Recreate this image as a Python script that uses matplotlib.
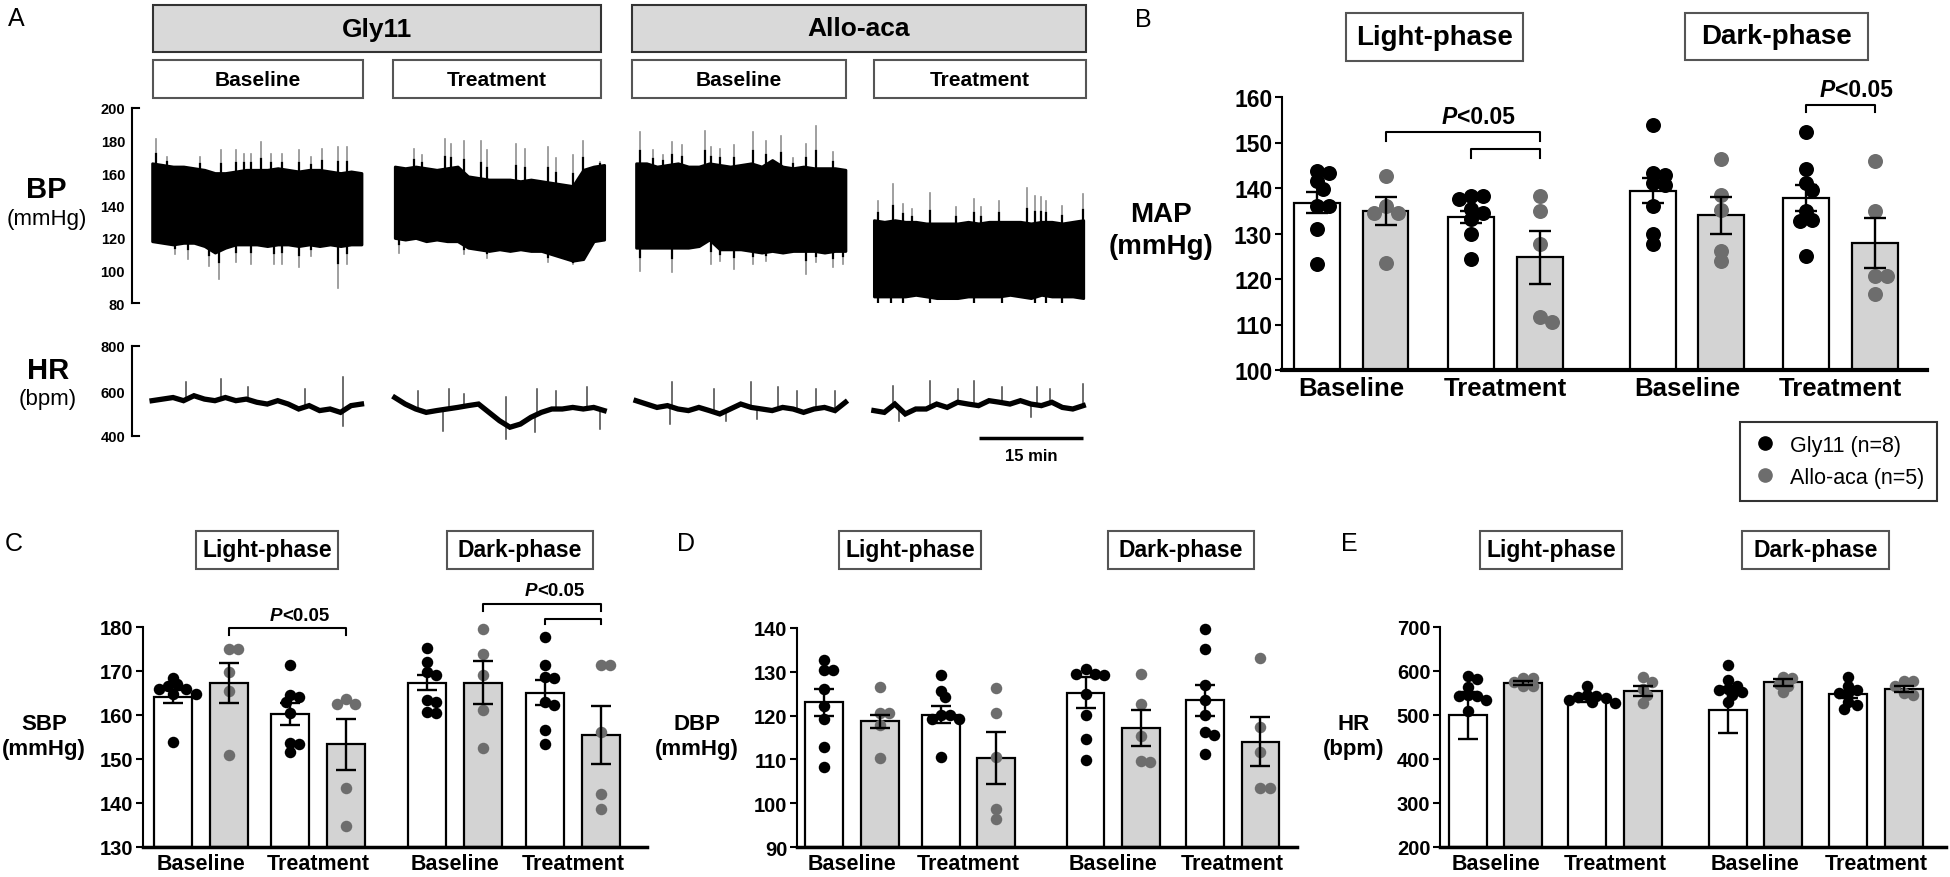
import numpy as np
import matplotlib
matplotlib.use('Agg')
import matplotlib.pyplot as plt
from matplotlib.patches import Rectangle
from matplotlib.lines import Line2D
from matplotlib.transforms import offset_copy

plt.rcParams['font.family'] = ['Liberation Sans', 'DejaVu Sans']

W, H = 1950, 878
fig = plt.figure(figsize=(W / 100, H / 100), dpi=100)

GLY = 'black'
ALLO = '#6d6d6d'
BARGRAY = '#d3d3d3'

## ---------------- panel A data ----------------
seg_start = [2.9, 37.9, 72.7, 107.0]     # minutes
seg_len = 30.2
frac21 = np.linspace(0, 1, 21)

bp_upper = [
    [166, 165, 164, 164, 163, 162, 160, 160, 161, 162, 162, 162, 163, 162, 161, 162, 162, 161, 160, 161, 160],
    [164, 163, 164, 163, 162, 163, 164, 158, 157, 156, 156, 156, 155, 156, 155, 154, 153, 152, 162, 164, 165],
    [166, 166, 164, 165, 166, 164, 164, 166, 165, 164, 165, 166, 164, 168, 164, 163, 164, 163, 163, 163, 162],
    [131, 130, 131, 130, 130, 129, 129, 129, 129, 130, 129, 130, 130, 130, 130, 129, 130, 130, 129, 130, 131],
]
bp_lower = [
    [118, 117, 116, 117, 117, 115, 111, 114, 116, 116, 116, 115, 116, 116, 115, 116, 115, 116, 115, 116, 116],
    [120, 119, 120, 118, 119, 118, 118, 114, 113, 112, 113, 112, 113, 112, 112, 110, 108, 106, 107, 118, 119],
    [114, 114, 114, 114, 114, 114, 115, 119, 113, 113, 113, 112, 111, 112, 111, 112, 112, 112, 111, 112, 112],
    [84, 84, 84, 84, 85, 84, 83, 83, 83, 84, 84, 84, 84, 85, 84, 83, 85, 84, 84, 84, 83],
]
# spikes: (fraction of segment, peak value)
bp_spikes_up = [
    [(.02, 181), (.07, 170), (.23, 170), (.33, 174), (.40, 174), (.44, 172), (.47, 172), (.52, 179),
     (.57, 172), (.62, 172), (.70, 174), (.76, 170), (.81, 175), (.89, 176), (.93, 176)],
    [(.09, 175), (.13, 171), (.24, 181), (.27, 178), (.33, 180), (.41, 180), (.44, 174), (.58, 178),
     (.62, 175), (.73, 176), (.77, 169), (.85, 171), (.90, 180), (.98, 167)],
    [(.02, 185), (.08, 174), (.13, 171), (.17, 179), (.22, 177), (.33, 186), (.36, 176), (.40, 175),
     (.47, 177), (.56, 185), (.62, 180), (.69, 183), (.75, 169), (.81, 178), (.86, 189), (.94, 173)],
    [(.02, 143), (.09, 153), (.14, 141), (.18, 138), (.27, 148), (.39, 139), (.48, 144), (.51, 139),
     (.60, 143), (.73, 151), (.77, 146), (.80, 145), (.82, 143), (.90, 140), (1.0, 147)],
]
bp_spikes_down = [
    [(.11, 110), (.17, 107), (.27, 103), (.32, 95), (.40, 105), (.47, 104), (.58, 104), (.62, 104),
     (.70, 102), (.76, 109), (.89, 89), (.93, 104)],
    [(.02, 111), (.33, 110), (.44, 108), (.73, 105), (.85, 104)],
    [(.02, 100), (.17, 99), (.36, 104), (.40, 106), (.47, 101), (.56, 104), (.62, 106), (.81, 98),
     (.86, 105), (.94, 102), (.99, 104)],
    [(.02, 74), (.08, 75), (.14, 75), (.27, 74), (.48, 70), (.61, 75), (.77, 71), (.82, 69), (.90, 74)],
]

hr_line = [
    [557, 564, 571, 557, 579, 564, 557, 571, 557, 564, 550, 542, 557, 542, 520, 535, 513, 520, 505, 535, 542],
    [571, 542, 520, 505, 513, 520, 527, 535, 542, 505, 468, 439, 453, 483, 505, 520, 520, 527, 520, 527, 513],
    [557, 542, 527, 535, 520, 513, 527, 513, 498, 520, 542, 527, 520, 513, 527, 520, 505, 520, 527, 513, 550],
    [513, 505, 542, 498, 520, 520, 542, 527, 550, 542, 535, 557, 550, 542, 557, 542, 535, 550, 527, 520, 535],
]
hr_spikes = [
    [(.16, 639), (.33, 653), (.46, 617), (.73, 609), (.91, 661), (.91, 446)],
    [(.11, 601), (.26, 609), (.33, 587), (.53, 572), (.68, 609), (.77, 601), (.92, 616),
     (.23, 424), (.53, 385), (.67, 416), (.98, 431)],
    [(.17, 639), (.37, 609), (.55, 639), (.68, 616), (.77, 601), (.86, 609), (.95, 601),
     (.16, 453), (.43, 468), (.58, 476)],
    [(.09, 624), (.27, 646), (.40, 609), (.48, 646), (.61, 616), (.78, 616), (.84, 609), (1.0, 631),
     (.12, 468), (.75, 483)],
]
bp_ticks = [200, 180, 160, 140, 120, 100, 80]
hr_ticks = [800, 600, 400]
scale_min = 15

## ---------------- bar panel data ----------------
groups = ['Gly11 (n=8)', 'Allo-aca (n=5)']
xcats = ['Baseline', 'Treatment', 'Baseline', 'Treatment']
phases = ['Light-phase', 'Dark-phase']

map_mean = [136.8, 135.0, 133.6, 124.8, 139.4, 134.0, 137.8, 127.9]
map_sem = [2.4, 3.1, 1.25, 5.8, 2.75, 4.1, 2.75, 5.5]
map_pts = [
    [143.4, 143.7, 141.5, 139.7, 136.0, 136.0, 131.0, 123.2],
    [142.6, 136.0, 134.6, 134.6, 123.6],
    [138.2, 138.2, 137.5, 135.3, 134.6, 133.1, 129.8, 124.3],
    [138.2, 134.9, 127.6, 111.7, 110.5],
    [153.8, 143.2, 142.9, 141.0, 140.6, 136.0, 130.0, 127.8],
    [146.4, 138.4, 135.2, 126.2, 124.0],
    [152.4, 144.1, 141.2, 139.6, 134.9, 133.0, 132.8, 125.0],
    [145.9, 134.9, 120.7, 120.7, 116.6],
]
sbp_mean = [164.2, 167.3, 160.2, 153.3, 167.3, 167.3, 165.1, 155.5]
sbp_sem = [1.4, 4.5, 2.5, 5.9, 1.7, 4.9, 2.8, 6.6]
sbp_pts = [
    [168.5, 167.1, 166.7, 166.0, 165.8, 164.8, 164.8, 153.9],
    [175.1, 175.1, 169.8, 165.5, 150.8],
    [171.3, 164.5, 164.2, 163.0, 160.5, 153.7, 153.5, 151.6],
    [163.6, 162.4, 162.4, 143.4, 134.8],
    [175.2, 172.0, 169.8, 169.0, 163.3, 163.0, 160.7, 160.5],
    [179.6, 173.9, 169.0, 161.1, 152.5],
    [177.7, 171.3, 168.6, 168.4, 163.0, 162.2, 156.5, 153.5],
    [171.3, 171.3, 156.1, 142.1, 138.7],
]
dbp_mean = [123.0, 118.7, 120.2, 110.3, 125.2, 117.2, 123.5, 114.0]
dbp_sem = [3.0, 1.5, 1.9, 5.9, 3.5, 4.1, 3.5, 5.6]
dbp_pts = [
    [132.6, 130.5, 130.5, 126.1, 122.3, 119.3, 112.8, 108.3],
    [126.5, 120.7, 120.7, 117.8, 110.3],
    [129.2, 125.6, 124.2, 120.1, 120.1, 119.3, 119.3, 110.5],
    [126.3, 120.7, 110.5, 98.6, 96.5],
    [130.6, 129.6, 129.4, 129.2, 125.0, 120.2, 114.7, 109.9],
    [129.6, 122.6, 115.3, 109.6, 109.4],
    [139.8, 135.3, 127.1, 123.5, 120.1, 116.3, 115.6, 111.3],
    [133.2, 117.4, 111.8, 103.5, 103.5],
]
hr_mean = [499, 573, 537, 554, 511, 574, 547, 560]
hr_sem = [53, 5, 8, 11, 53, 8, 8, 7]
hr_pts = [
    [588, 581, 563, 545, 543, 543, 533, 510],
    [583, 583, 575, 566, 566],
    [567, 545, 543, 540, 538, 535, 530, 528],
    [586, 575, 560, 545, 527],
    [613, 579, 567, 560, 556, 552, 545, 530],
    [586, 583, 571, 567, 552],
    [586, 567, 556, 549, 549, 530, 522, 514],
    [577, 577, 567, 549, 545],
]


def frect(x0, y0, x1, y1):
    return [x0 / W, 1 - y1 / H, (x1 - x0) / W, (y1 - y0) / H]


def box(x0, y0, x1, y1, text, fs, face='white', edge='#555555', lw=1.5):
    fig.add_artist(Rectangle((x0 / W, 1 - y1 / H), (x1 - x0) / W, (y1 - y0) / H,
                             transform=fig.transFigure, facecolor=face, edgecolor=edge, lw=lw))
    fig.text((x0 + x1) / 2 / W, 1 - (y0 + y1) / 2 / H, text, ha='center', va='center',
             fontsize=fs, fontweight='bold')


def ftext(x, y, s, fs, weight='bold', **kw):
    fig.text(x / W, 1 - y / H, s, ha='center', va='center', fontsize=fs, fontweight=weight, **kw)


## ---------------- panel A ----------------
ftext(16, 19, 'A', 18, weight='normal')
box(153, 6, 601, 53, 'Gly11', 19, face='#d9d9d9', edge='#333333')
box(632, 6, 1086, 53, 'Allo-aca', 19, face='#d9d9d9', edge='#333333')
for (x0, x1), lab in zip([(153, 363), (393, 601), (632, 846), (874, 1086)], xcats):
    box(x0, 61, x1, 99, lab, 15)

px_per_min = 104 / 15
xmax = (1100 - 132) / px_per_min

axbp = fig.add_axes(frect(132, 109, 1100, 304))
axhr = fig.add_axes(frect(132, 347, 1100, 437))
for ax in (axbp, axhr):
    ax.set_xlim(0, xmax)
    for s in ('top', 'right', 'bottom'):
        ax.spines[s].set_visible(False)
    ax.spines['left'].set_linewidth(1.5)
    ax.set_xticks([])
    ax.tick_params(axis='y', length=0, pad=5)
    for yy in (0, 1):
        ax.plot([0, 0.007], [yy, yy], transform=ax.transAxes, color='black', lw=1.5, clip_on=False)

axbp.set_ylim(80, 200)
axbp.set_yticks(bp_ticks)
axhr.set_ylim(400, 800)
axhr.set_yticks(hr_ticks)
for ax in (axbp, axhr):
    ax.set_yticklabels([str(t) for t in ax.get_yticks()], fontweight='bold', fontsize=10.5)


def spike(ax, tt, base, peak):
    # dark near the trace, fading to grey at the tip
    mid = base + 0.4 * (peak - base)
    ax.plot([tt, tt], [mid, peak], color='#8f8f8f', lw=1.2)
    ax.plot([tt, tt], [base, mid], color='black', lw=1.6)


for i in range(4):
    t = seg_start[i] + frac21 * seg_len
    for f, v in bp_spikes_up[i]:
        tt = seg_start[i] + f * seg_len
        spike(axbp, tt, np.interp(tt, t, bp_upper[i]), v)
    for f, v in bp_spikes_down[i]:
        tt = seg_start[i] + f * seg_len
        spike(axbp, tt, np.interp(tt, t, bp_lower[i]), v)
    axbp.fill_between(t, bp_lower[i], bp_upper[i], color='black', lw=2.0, edgecolor='black')

    for f, v in hr_spikes[i]:
        tt = seg_start[i] + f * seg_len
        axhr.plot([tt, tt], [np.interp(tt, t, hr_line[i]), v], color='#444444', lw=1.1, clip_on=False)
    axhr.plot(t, hr_line[i], color='black', lw=3.8, clip_on=False, solid_joinstyle='miter')

# scale bar (15 min long, in the trace time units)
sb0 = (979 - 132) / px_per_min
sb_y = 400 - (439 - 437) / (90 / 400)
axhr.plot([sb0, sb0 + scale_min], [sb_y, sb_y], color='black', lw=2.5, clip_on=False,
          solid_capstyle='butt')
ftext(1031, 457, '%d min' % scale_min, 12)

ftext(46, 190, 'BP', 21)
ftext(47, 219, '(mmHg)', 16, weight='normal')
ftext(48, 371, 'HR', 21)
ftext(48, 399, '(bpm)', 16, weight='normal')


## ---------------- bar panels ----------------
def swarm(ax, xc, vals, d_px):
    tr = ax.transData
    pix = tr.transform(np.column_stack([np.full(len(vals), xc), vals]))
    order = np.argsort(vals)[::-1]
    placed = []
    xs = np.zeros(len(vals))
    step = d_px * 0.4
    for i in order:
        px, py = pix[i]
        best = 0.0
        for k in range(0, 30):
            cands = [0.0] if k == 0 else [k * step, -k * step]
            found = False
            for off in cands:
                if all((px + off - qx) ** 2 + (py - qy) ** 2 >= (0.62 * d_px) ** 2 for qx, qy in placed):
                    best = off
                    found = True
                    break
            if found:
                break
        placed.append((px + best, py))
        xs[i] = tr.inverted().transform((px + best, py))[0]
    return xs


def pval(ax, xc, y, fs):
    tr = offset_copy(ax.transData, fig=fig, x=-0.26 * fs, y=0, units='points')
    ax.text(xc, y, 'P', transform=tr, ha='right', va='center', fontsize=fs, fontweight='bold',
            style='italic', clip_on=False)
    ax.text(xc, y, '<0.05', transform=tr, ha='left', va='center', fontsize=fs, fontweight='bold',
            clip_on=False)


def bracket(ax, x1, x2, y, tip, lw=1.5):
    ax.plot([x1, x1, x2, x2], [y - tip, y, y, y - tip], color='black', lw=lw, clip_on=False)


def bar_panel(rect, starts, xl, ylim, yticks, means, sems, pts, bw, dot_px, tfs, xfs, capsize, botlw):
    ax = fig.add_axes(rect)
    ax.set_xlim(*xl)
    ax.set_ylim(*ylim)
    pos = []
    for s in starts:
        pos += [s, s + 1]
    for j, x in enumerate(pos):
        face = 'white' if j % 2 == 0 else BARGRAY
        ax.bar(x, means[j] - ylim[0], bottom=ylim[0], width=bw, color=face, edgecolor='black',
               lw=1.6, zorder=2)
    for j, x in enumerate(pos):
        col = GLY if j % 2 == 0 else ALLO
        xs = swarm(ax, x, pts[j], dot_px)
        ax.scatter(xs, pts[j], s=(dot_px * 0.72) ** 2, color=col, lw=0, zorder=3, clip_on=False)
        ax.errorbar(x, means[j], yerr=sems[j], color='black', lw=1.7, capsize=capsize,
                    capthick=1.7, zorder=4)
    for s in ('top', 'right'):
        ax.spines[s].set_visible(False)
    ax.spines['left'].set_linewidth(1.5)
    ax.spines['bottom'].set_linewidth(botlw)
    ax.spines['bottom'].set_zorder(5)
    ax.set_yticks(yticks)
    ax.set_yticklabels([str(t) for t in yticks], fontsize=tfs, fontweight='bold')
    ax.tick_params(axis='y', length=5, width=1.5, pad=2)
    ax.set_xticks([s + 0.5 for s in starts])
    ax.set_xticklabels(xcats, fontsize=xfs, fontweight='bold')
    ax.tick_params(axis='x', length=0, pad=4)
    ax.patch.set_alpha(0)
    return ax, pos


# B
axB, posB = bar_panel(frect(1282, 98, 1927, 371), [0, 2.25, 4.9, 7.14], (-0.51, 8.9), (100, 160),
                      [100, 110, 120, 130, 140, 150, 160], map_mean, map_sem, map_pts,
                      0.67, 15, 16.5, 18.5, 8, 3)
bracket(axB, posB[1], posB[3], 152.3, 2.0)
bracket(axB, posB[2], posB[3], 148.5, 2.0)
pval(axB, (posB[1] + posB[3]) / 2, 155.8, 16.5)
bracket(axB, posB[6], posB[7], 158.2, 1.5)
pval(axB, (posB[6] + posB[7]) / 2, 161.6, 16.5)
ftext(1143, 20, 'B', 18, weight='normal')
box(1346, 14, 1523, 62, phases[0], 20)
box(1685, 14, 1868, 61, phases[1], 20)
fig.text(1161 / W, 1 - 231 / H, 'MAP\n(mmHg)', ha='center', va='center', fontsize=20,
         fontweight='bold', linespacing=1.25)

# C
axC, posC = bar_panel(frect(143, 628, 647, 848), [0, 2.1, 4.54, 6.65], (-0.53, 8.47), (130, 180),
                      [130, 140, 150, 160, 170, 180], sbp_mean, sbp_sem, sbp_pts,
                      0.68, 11.5, 14.5, 15.5, 7, 2.5)
bracket(axC, posC[1], posC[3], 179.8, 1.7)
pval(axC, (posC[1] + posC[3]) / 2, 182.6, 13.5)
bracket(axC, posC[5], posC[7], 185.2, 1.6)
bracket(axC, posC[6], posC[7], 181.9, 1.3)
pval(axC, (posC[5] + posC[7]) / 2, 188.4, 13.5)
ftext(14, 544, 'C', 18, weight='normal')
box(196, 532, 338, 570, phases[0], 16.5)
box(447, 532, 593, 570, phases[1], 16.5)
fig.text(44 / W, 1 - 737 / H, 'SBP\n(mmHg)', ha='center', va='center', fontsize=16,
         fontweight='bold', linespacing=1.3)

# D
axD, posD = bar_panel(frect(797, 629, 1297, 848), [0, 2.1, 4.71, 6.86], (-0.49, 8.52), (90, 140),
                      [90, 100, 110, 120, 130, 140], dbp_mean, dbp_sem, dbp_pts,
                      0.68, 11.5, 14.5, 15.5, 7, 2.5)
ftext(686, 544, 'D', 18, weight='normal')
box(839, 532, 981, 570, phases[0], 16.5)
box(1108, 532, 1254, 570, phases[1], 16.5)
fig.text(697 / W, 1 - 737 / H, 'DBP\n(mmHg)', ha='center', va='center', fontsize=16,
         fontweight='bold', linespacing=1.3)

# E
axE, posE = bar_panel(frect(1440, 628, 1946, 848), [0, 2.15, 4.68, 6.85], (-0.5, 8.61), (200, 700),
                      [200, 300, 400, 500, 600, 700], hr_mean, hr_sem, hr_pts,
                      0.68, 11.5, 14.5, 15.5, 7, 2.5)
ftext(1349, 544, 'E', 18, weight='normal')
box(1480, 532, 1622, 570, phases[0], 16.5)
box(1742, 532, 1889, 570, phases[1], 16.5)
fig.text(1354 / W, 1 - 737 / H, 'HR\n(bpm)', ha='center', va='center', fontsize=16,
         fontweight='bold', linespacing=1.3)

# legend
handles = [Line2D([], [], marker='o', ls='', color=GLY, markersize=9.5),
           Line2D([], [], marker='o', ls='', color=ALLO, markersize=9.5)]
leg = fig.legend(handles, groups, loc='upper left', bbox_to_anchor=(1740 / W, 1 - 423 / H),
                 fontsize=15.5, frameon=True, fancybox=False, edgecolor='black',
                 handletextpad=0.6, borderpad=0.6, labelspacing=0.5, handlelength=1.1,
                 borderaxespad=0)
leg.get_frame().set_linewidth(1.5)

fig.savefig('out.png', dpi=100)
